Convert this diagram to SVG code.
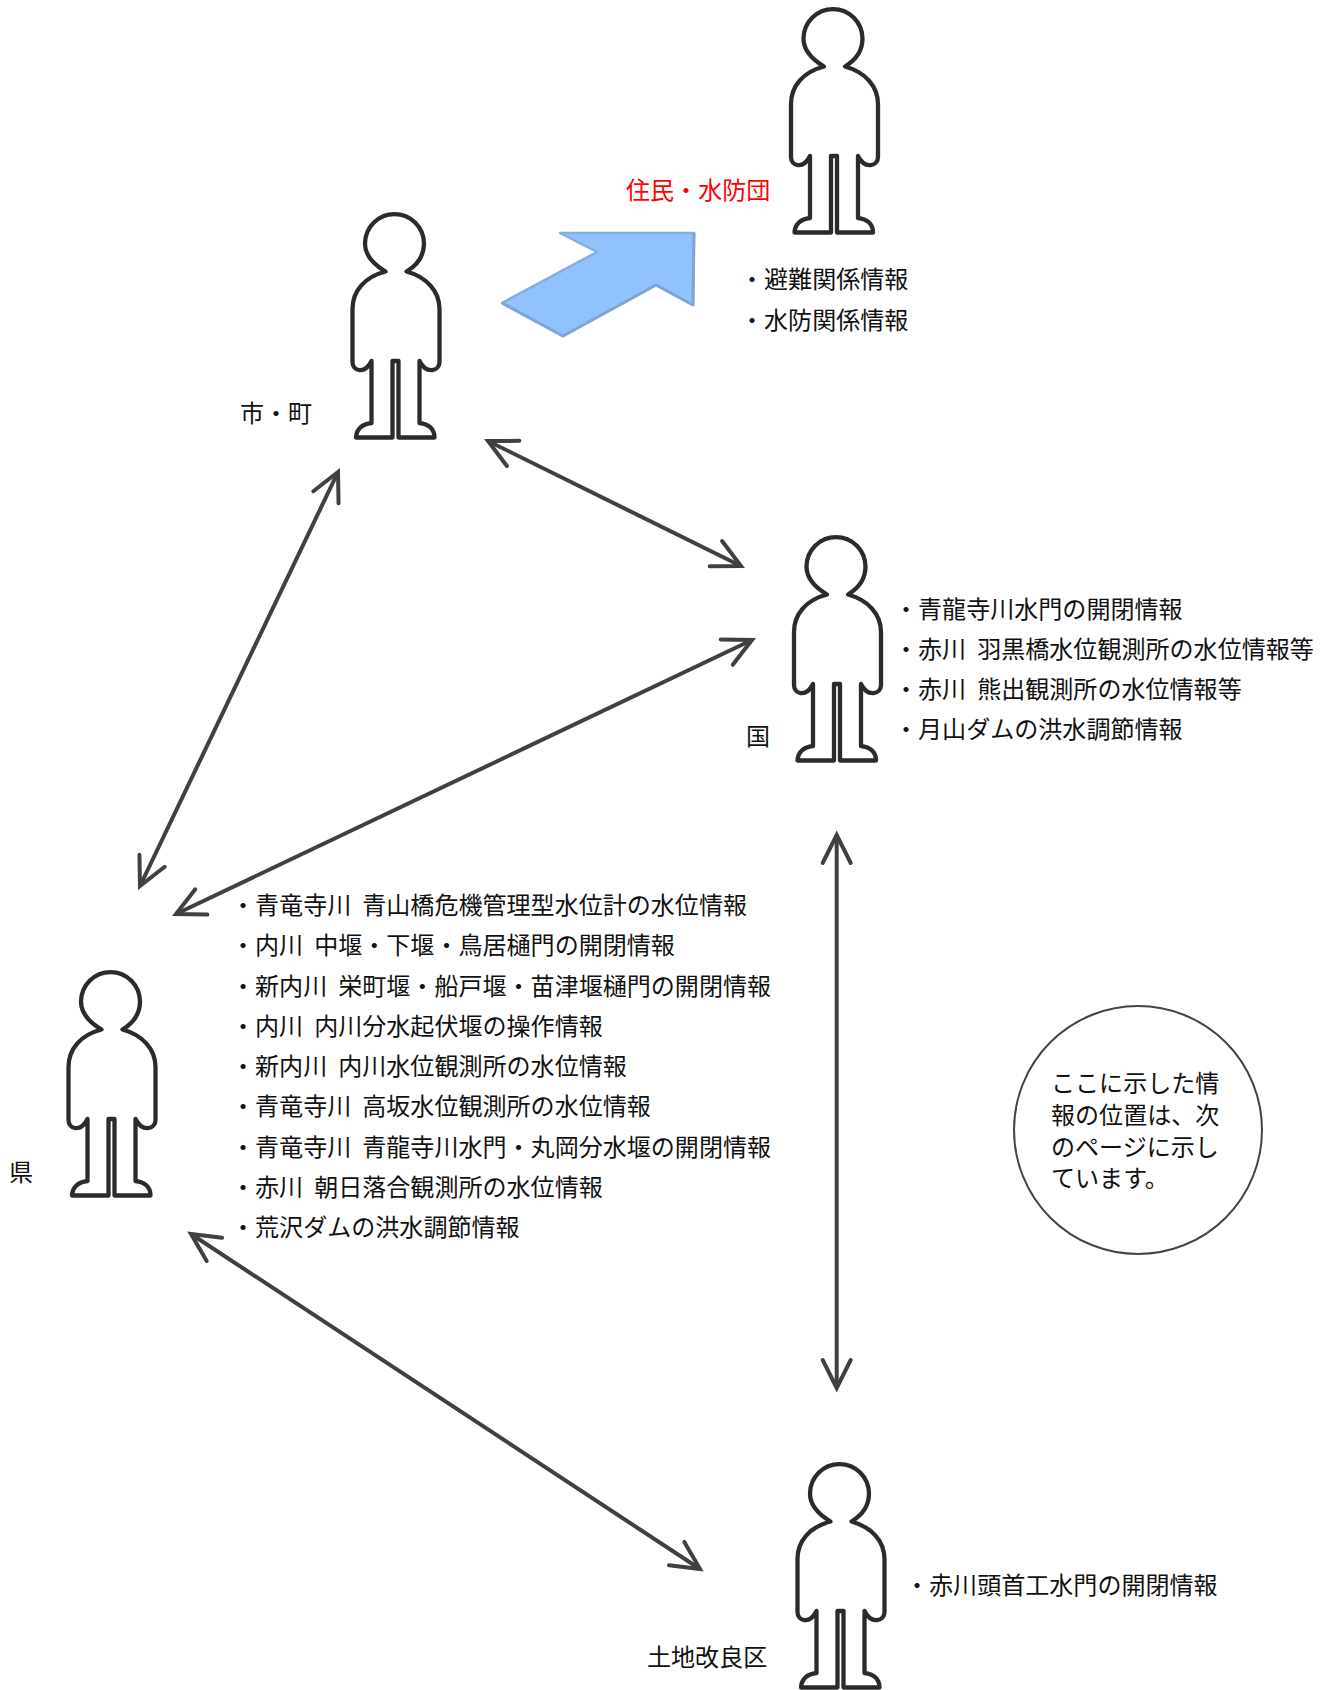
<svg xmlns="http://www.w3.org/2000/svg" xmlns:xlink="http://www.w3.org/1999/xlink" width="1330" height="1690" viewBox="0 0 1330 1690">
<style>
text{font-family:"Noto Sans CJK JP","Noto Sans",sans-serif;font-size:24.05px;fill:#111}
.red{fill:#f00}
.p{fill:#fff;stroke:#2b2b2b;stroke-width:4.3;stroke-linejoin:round}
.c{fill:none;stroke:#404040;stroke-width:4;marker-start:url(#h);marker-end:url(#h)}
</style>
<defs>
<marker id="h" markerUnits="userSpaceOnUse" viewBox="-34 -20 42 40" refX="0" refY="0" markerWidth="42" markerHeight="40" orient="auto-start-reverse">
<path d="M-28,-14 L0,0 L-28,14" fill="none" stroke="#404040" stroke-width="4" stroke-linecap="round" stroke-linejoin="miter"/>
</marker>
<g id="person">
<path class="p" d="M-10,66.5 C-21,60 -30.5,51 -30.5,38.6 A29.5,29.5 0 1 1 28.5,38.6 C28.5,51 22,60 11,66.5 C31,72 44,86 44,104 L44,157 C44,166 31,170 24,156 L24,218 C33,219 39,224 39,232.5 L3,232.5 L3,156 L-3,156 L-3,232.5 L-39.5,232.5 C-39,224 -33,219 -24,218 L-24,156 C-31,170 -43,166 -43,157 L-43,104 C-43,86 -31,72 -10,66.5 Z"/>
</g>
</defs>

<g id="connectors">
<line class="c" x1="488" y1="441" x2="741" y2="566"/>
<line class="c" x1="338" y1="472" x2="140" y2="886"/>
<line class="c" x1="752" y1="640" x2="176" y2="914"/>
<line class="c" x1="836.7" y1="835" x2="836.7" y2="1388"/>
<line class="c" x1="191" y1="1234" x2="700" y2="1569"/>
<polygon points="560,233 694,233 693,305 656,285 563,336 502,303 597,252" fill="#90c3fd" stroke="#84aee2" stroke-width="2.5" stroke-linejoin="round"/>
<polyline points="694,233 693,305 656,285 563,336 502,303" fill="none" stroke="#7ea5d6" stroke-width="3" stroke-linejoin="round"/>
</g>

<g id="node-residents">
<use xlink:href="#person" x="834" y="0"/>
<text class="red" x="626" y="199">住民・水防団</text>
<text x="740" y="288">・避難関係情報</text>
<text x="740" y="329">・水防関係情報</text>
</g>
<g id="node-city">
<use xlink:href="#person" x="395.5" y="205"/>
<text x="240" y="422">市・町</text>
</g>
<g id="node-national">
<use xlink:href="#person" x="837" y="528"/>
<text x="746" y="745">国</text>
<text x="894" y="618">・青龍寺川水門の開閉情報</text>
<text x="894" y="658">・赤川<tspan dx="11">羽黒橋水位観測所の水位情報等</tspan></text>
<text x="894" y="698">・赤川<tspan dx="11">熊出観測所の水位情報等</tspan></text>
<text x="894" y="738">・月山ダムの洪水調節情報</text>
</g>
<g id="node-prefecture">
<use xlink:href="#person" x="111.5" y="963"/>
<text x="9" y="1181">県</text>
<text x="231" y="914">・青竜寺川<tspan dx="11">青山橋危機管理型水位計の水位情報</tspan></text>
<text x="231" y="954">・内川<tspan dx="11">中堰・下堰・鳥居樋門の開閉情報</tspan></text>
<text x="231" y="995">・新内川<tspan dx="11">栄町堰・船戸堰・苗津堰樋門の開閉情報</tspan></text>
<text x="231" y="1035">・内川<tspan dx="11">内川分水起伏堰の操作情報</tspan></text>
<text x="231" y="1075">・新内川<tspan dx="11">内川水位観測所の水位情報</tspan></text>
<text x="231" y="1115">・青竜寺川<tspan dx="11">高坂水位観測所の水位情報</tspan></text>
<text x="231" y="1156">・青竜寺川<tspan dx="11">青龍寺川水門・丸岡分水堰の開閉情報</tspan></text>
<text x="231" y="1196">・赤川<tspan dx="11">朝日落合観測所の水位情報</tspan></text>
<text x="231" y="1236">・荒沢ダムの洪水調節情報</text>
</g>
<g id="node-landimprovement">
<use xlink:href="#person" x="840.5" y="1455"/>
<text x="647" y="1666">土地改良区</text>
<text x="905" y="1594">・赤川頭首工水門の開閉情報</text>
</g>
<g id="node-note">
<circle cx="1138" cy="1130" r="124" fill="#fff" stroke="#444" stroke-width="2"/>
<text><tspan x="1051" y="1092">ここに示した情</tspan><tspan x="1051" y="1124">報の位置は、次</tspan><tspan x="1051" y="1156">のページに示し</tspan><tspan x="1051" y="1187">ています。</tspan></text>
</g>
</svg>
